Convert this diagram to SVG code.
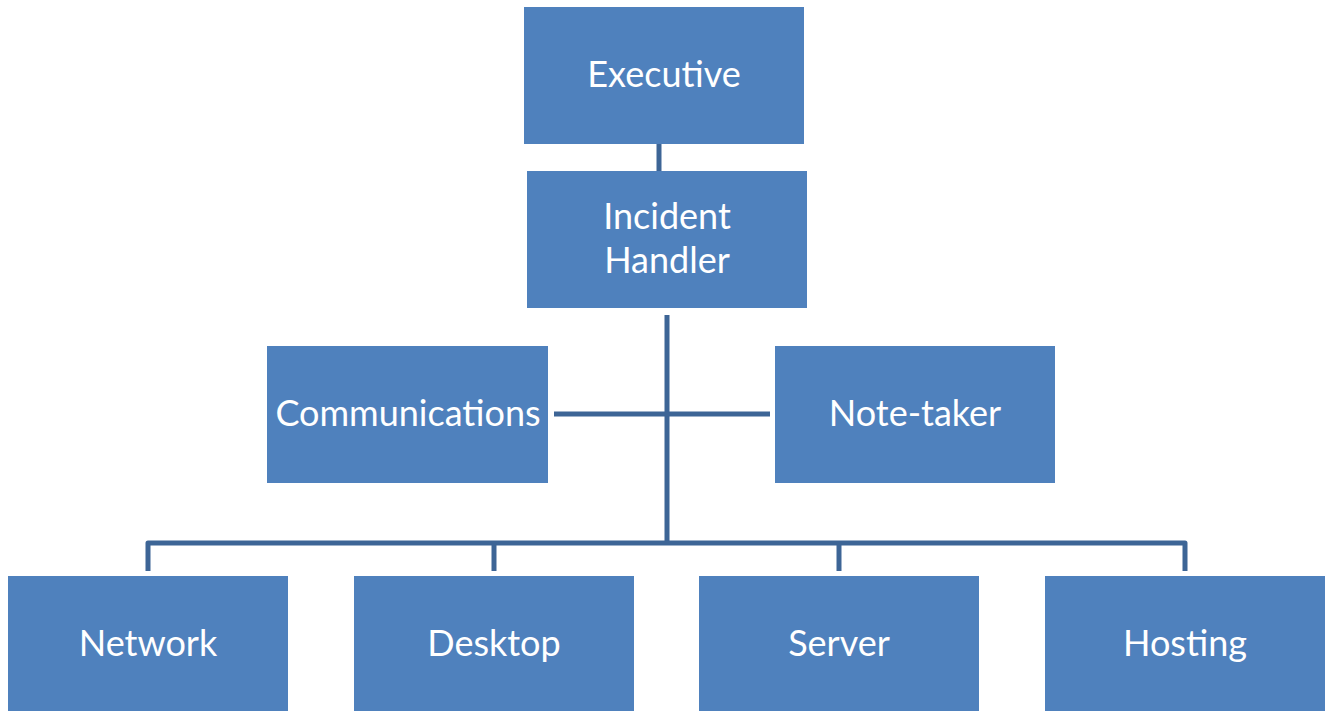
<svg xmlns="http://www.w3.org/2000/svg" width="1328" height="711" viewBox="0 0 1328 711">
  <style>
    .box { fill: #4F81BD; }
    .lbl { fill: #FFFFFF; font-family: Lato, "Open Sans", "Liberation Sans", sans-serif; font-size: 36px; text-anchor: middle; }
    .wire { fill: none; stroke: #3D6596; stroke-width: 5; stroke-linejoin: round; }
  </style>
  <rect width="1328" height="711" fill="#FFFFFF"/>

  <g id="connectors">
    <line class="wire" x1="659" y1="144" x2="659" y2="171"/>
    <line class="wire" x1="667" y1="315" x2="667" y2="543"/>
    <line class="wire" x1="554" y1="414" x2="770" y2="414"/>
    <path class="wire" d="M148,571 V543 H1185 V571"/>
    <line class="wire" x1="494" y1="543" x2="494" y2="571"/>
    <line class="wire" x1="839" y1="543" x2="839" y2="571"/>
  </g>

  <g id="executive">
    <rect class="box" x="524" y="7" width="280" height="137"/>
    <text class="lbl" x="664" y="87">Executive</text>
  </g>
  <g id="incident-handler">
    <rect class="box" x="527" y="171" width="280" height="137"/>
    <text class="lbl" x="667" y="229">Incident</text>
    <text class="lbl" x="667" y="273">Handler</text>
  </g>
  <g id="communications">
    <rect class="box" x="267" y="346" width="281" height="137"/>
    <text class="lbl" x="408" y="426">Communications</text>
  </g>
  <g id="note-taker">
    <rect class="box" x="775" y="346" width="280" height="137"/>
    <text class="lbl" x="915" y="426">Note-taker</text>
  </g>
  <g id="network">
    <rect class="box" x="8" y="576" width="280" height="137"/>
    <text class="lbl" x="148" y="656">Network</text>
  </g>
  <g id="desktop">
    <rect class="box" x="354" y="576" width="280" height="137"/>
    <text class="lbl" x="494" y="656">Desktop</text>
  </g>
  <g id="server">
    <rect class="box" x="699" y="576" width="280" height="137"/>
    <text class="lbl" x="839" y="656">Server</text>
  </g>
  <g id="hosting">
    <rect class="box" x="1045" y="576" width="280" height="137"/>
    <text class="lbl" x="1185" y="656">Hosting</text>
  </g>
</svg>
